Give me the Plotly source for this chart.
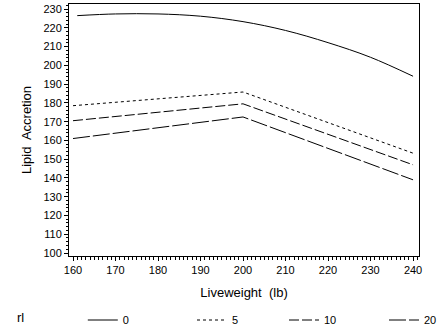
import plotly.graph_objects as go

# Data
x_rl0 = [161, 170, 180, 190, 200, 210, 220, 230, 240]
y_rl0 = [226.5, 227.4, 227.4, 226.2, 223.3, 218.6, 212.1, 204.3, 194.2]

x_knee = [160, 200, 240]
y_rl5 = [178.5, 185.8, 153.2]
y_rl10 = [170.5, 179.5, 147.0]
y_rl20 = [161.0, 172.5, 139.0]

series_names = ["0", "5", "10", "20"]
dashes = ["solid", "3px,3px", "10px,3px", "17px,3px"]

x_ticks = [160, 170, 180, 190, 200, 210, 220, 230, 240]
y_ticks = [100, 110, 120, 130, 140, 150, 160, 170, 180, 190, 200, 210, 220, 230]

font_family = "Liberation Sans, Arial, sans-serif"
W, H = 441, 328

legend_ids = ["legend", "legend2", "legend3", "legend4"]
legend_left_px = [15, 192, 284, 384]

fig = go.Figure()
series = [(x_rl0, y_rl0), (x_knee, y_rl5), (x_knee, y_rl10), (x_knee, y_rl20)]
for (xs, ys), name, dash, lid in zip(series, series_names, dashes, legend_ids):
    fig.add_trace(go.Scatter(x=xs, y=ys, mode="lines", name=name, legend=lid,
                             line=dict(color="black", width=1, dash=dash,
                                       shape="spline" if name == "0" else "linear")))

legend_common = dict(orientation="h", y=8 / H, xref="container", yref="container",
                     xanchor="left", yanchor="middle", font=dict(size=11),
                     bgcolor="rgba(0,0,0,0)")
layout_legends = {}
for i, (lid, px) in enumerate(zip(legend_ids, legend_left_px)):
    d = dict(legend_common, x=px / W)
    if i == 0:
        d["title"] = dict(text="rl" + "\u00a0" * 14, side="left")
    layout_legends[lid] = d

fig.update_layout(
    width=W, height=H,
    margin=dict(l=69, r=22, t=4, b=72),
    paper_bgcolor="white", plot_bgcolor="white",
    font=dict(family=font_family, size=11, color="black"),
    showlegend=True,
    xaxis=dict(range=[159.06, 241.4], tickvals=x_ticks, ticks="outside", ticklen=4,
               tickcolor="black", showline=True, linecolor="black", linewidth=1,
               mirror=True, showgrid=False, zeroline=False,
               minor=dict(dtick=1, ticks="outside", ticklen=3, tickcolor="black"),
               title=dict(text="Liveweight  (lb)", standoff=12)),
    yaxis=dict(range=[98.4, 232.7], tickvals=y_ticks, ticks="outside", ticklen=4,
               tickcolor="black", showline=True, linecolor="black", linewidth=1,
               mirror=True, showgrid=False, zeroline=False,
               minor=dict(dtick=2, ticks="outside", ticklen=2, tickcolor="black"),
               title=dict(text="Lipid  Accretion", standoff=8)),
    **layout_legends,
)

fig.write_html("out.html")
